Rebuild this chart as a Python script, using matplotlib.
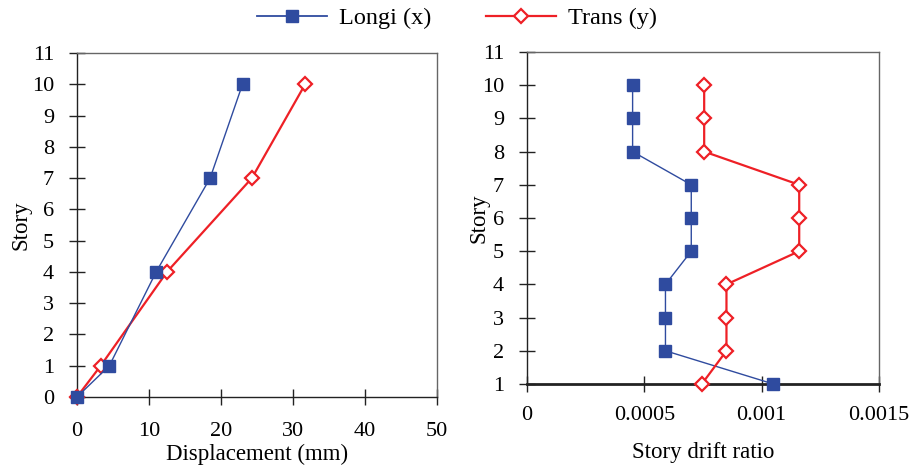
import matplotlib
matplotlib.use("Agg")
import matplotlib.pyplot as plt
from matplotlib.lines import Line2D

plt.rcParams['font.family'] = ['Liberation Serif', 'DejaVu Serif']

# Displacement profile
disp_story = [0, 1, 4, 7, 10]
disp_longi = [0, 4.5, 11.0, 18.5, 23.0]
disp_trans = [0, 3.3, 12.5, 24.3, 31.7]

# Story drift ratio
drift_story = [10, 9, 8, 7, 6, 5, 4, 3, 2, 1]
drift_longi = [0.00045, 0.00045, 0.00045, 0.00070, 0.00070, 0.00070,
               0.00059, 0.00059, 0.00059, 0.00105]
drift_trans = [0.000755, 0.000755, 0.000755, 0.00116, 0.00116, 0.00116,
               0.00085, 0.00085, 0.00085, 0.000745]

x_ticks_left = [0, 10, 20, 30, 40, 50]
x_ticks_right = [0, 0.0005, 0.001, 0.0015]
x_ticklabels_right = ['0', '0.0005', '0.001', '0.0015']

BLUE = '#2f4b9f'
RED = '#ee2026'
FS_TICK = 16
FS_LAB = 16.5

fig = plt.figure(figsize=(9.14, 4.68), dpi=100)
ax1 = fig.add_axes([0.0842, 0.1517, 0.3938, 0.7351])
ax2 = fig.add_axes([0.5766, 0.1795, 0.3851, 0.7094])

def style(ax):
    for s in ax.spines.values():
        s.set_color('#666666')
        s.set_linewidth(1.0)
    ax.spines['left'].set_color('#222222')
    ax.spines['bottom'].set_color('#222222')
    ax.tick_params(direction='inout', length=12, width=1.0, labelsize=FS_TICK,
                   color='#222222')
    ax.tick_params(axis='y', pad=10.5)

ax1.plot(disp_longi, disp_story, color=BLUE, lw=1.0, marker='s', ms=9,
         mfc=BLUE, mec=BLUE, clip_on=False, zorder=5)
ax1.plot(disp_trans, disp_story, color=RED, lw=1.6, marker='D', ms=7,
         mfc='white', mec=RED, mew=1.6, clip_on=False, zorder=4)
ax1.set_xlim(0, 50)
ax1.set_ylim(0, 11)
ax1.set_xticks(x_ticks_left)
ax1.set_yticks(range(0, 12))
style(ax1)
ax1.tick_params(axis='x', pad=12)
ax1.set_xlabel('Displacement (mm)', fontsize=FS_LAB, labelpad=2)
ax1.set_ylabel('Story', fontsize=FS_LAB, labelpad=0)

ax2.plot(drift_longi, drift_story, color=BLUE, lw=1.0, marker='s', ms=9,
         mfc=BLUE, mec=BLUE, clip_on=False, zorder=5)
ax2.plot(drift_trans, drift_story, color=RED, lw=1.6, marker='D', ms=7,
         mfc='white', mec=RED, mew=1.6, clip_on=False, zorder=5)
ax2.set_xlim(0, 0.0015)
ax2.set_ylim(1, 11)
ax2.set_xticks(x_ticks_right)
ax2.set_xticklabels(x_ticklabels_right)
ax2.set_yticks(range(1, 12))
style(ax2)
ax2.spines['bottom'].set_linewidth(2.0)
ax2.tick_params(axis='x', pad=10)
ax2.set_xlabel('Story drift ratio', fontsize=FS_LAB, labelpad=12)
ax2.set_ylabel('Story', fontsize=FS_LAB, labelpad=-5.5)

handles = [
    Line2D([], [], color=BLUE, lw=1.3, marker='s', ms=8, mfc=BLUE, mec=BLUE),
    Line2D([], [], color=RED, lw=1.6, marker='D', ms=7, mfc='white', mec=RED, mew=1.6),
]
fig.legend(handles, ['Longi (x)', 'Trans (y)'], loc='center',
           bbox_to_anchor=(0.5, 0.9615), ncol=2, frameon=False, fontsize=17.5,
           handlelength=2.88, columnspacing=2.26, handletextpad=0.5,
           borderpad=0, borderaxespad=0)

fig.savefig('out.png', dpi=100)
